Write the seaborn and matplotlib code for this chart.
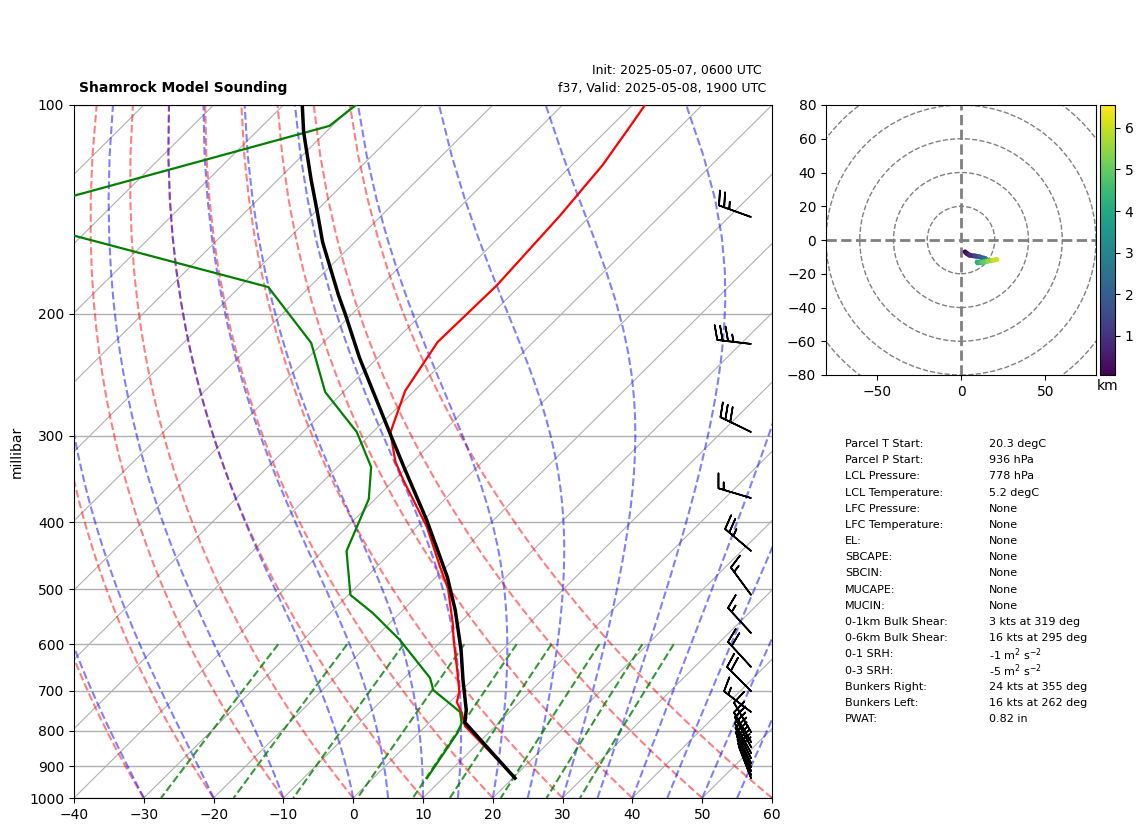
import numpy as np
import matplotlib
matplotlib.use('Agg')
import matplotlib.pyplot as plt
import seaborn as sns
from matplotlib.collections import LineCollection
from matplotlib.patches import Circle
from matplotlib.ticker import NullLocator, NullFormatter, FixedLocator, FixedFormatter

# sounding, pressure in hPa and temperature in degC
temp_p = [936, 858.5, 787, 754, 727, 703, 660, 591.6, 559, 499, 464, 406, 347.7, 327, 297,
          258.6, 219.8, 181.9, 144.6, 122.1, 106.9, 100]
temp_c = [20.3, 13, 5.6, 3.3, 1, -0.1, -3.1, -8.4, -11, -16.6, -20.9, -28.6, -38.7, -42.5, -47.4,
          -51.3, -53.7, -53.4, -54.4, -55.6, -57.3, -58.2]
dewp_p = [936, 803.3, 779.3, 751.4, 698.6, 671.2, 591.6, 540.8, 509.3, 440.1, 370.4, 332.9, 296.4,
          259.5, 220.4, 183.1, 144.6, 107.2, 100]
dewp_c = [7.7, 5.5, 4.7, 2.9, -4.1, -6.3, -16.1, -23.9, -29.7, -36.6, -40.9, -45.2, -52.3,
          -62.6, -71.7, -85.9, -134.6, -100.4, -99.6]
parcel_p = [936, 778, 746.5, 675.6, 611.6, 535.6, 479.9, 397, 336.2, 301.4, 231.7, 200.2, 188,
            157.7, 142.7, 128.3, 109.4, 100]
parcel_c = [20.3, 5.1, 3.5, -1.3, -5.9, -12.5, -18.4, -29.6, -39.9, -46.6, -62.6, -71, -74.7,
            -84.6, -89.7, -95.2, -103.2, -107.3]

# wind barbs, kts
barb_p = [145.1, 221.2, 296.4, 369.1, 440.1, 509.3, 578, 647, 701, 751.4, 803.3, 830, 844, 861, 876,
          890, 902, 914, 926, 936]
barb_u = [23.5, 34.8, 27, 14.4, 19.1, 8.9, 10.1, 13.5, 14.1, 11.9, 5, 5, 4.8, 4.8, 4.6,
          4.5, 4.2, 4, 3.8, 3.6]
barb_v = [-8.5, -4.1, -13.1, -4.3, -16.2, -12.1, -11, -14.7, -14.1, -9.1, -8.6, -8.6, -8.8, -8.8, -8.9,
          -8.9, -9.1, -9.2, -9.2, -9.3]

# hodograph
hodo_u = [2.4, 3.5, 5, 8.3, 11, 14.2, 15.5, 13, 10, 9.5, 11, 13, 16, 19, 21.3]
hodo_v = [-7, -8, -9, -9.5, -10, -10.9, -12, -13, -13.5, -13, -13, -13, -12.5, -12, -11.5]
hodo_km = [0.06, 0.4, 0.8, 1.4, 2, 2.5, 3, 3.4, 3.8, 4.2, 4.6, 5, 5.5, 6, 6.55]

# background lines of the diagram
iso_t = list(range(-140, 61, 10))
dry_t0 = list(range(-40, 61, 10))
moist_t0 = [-40, -30, -20, -10, 0, 5, 10, 15, 20, 25, 30, 35, 40, 45, 50, 55, 60]
mix_w = [0.0004, 0.001, 0.002, 0.004, 0.007, 0.01, 0.016, 0.024, 0.032]

p_ticks = [100, 200, 300, 400, 500, 600, 700, 800, 900, 1000]
t_ticks = [-40, -30, -20, -10, 0, 10, 20, 30, 40, 50, 60]

stat_names = ['Parcel T Start:', 'Parcel P Start:', 'LCL Pressure:', 'LCL Temperature:', 'LFC Pressure:',
              'LFC Temperature:', 'EL:', 'SBCAPE:', 'SBCIN:', 'MUCAPE:', 'MUCIN:', '0-1km Bulk Shear:',
              '0-6km Bulk Shear:', '0-1 SRH:', '0-3 SRH:', 'Bunkers Right:', 'Bunkers Left:', 'PWAT:']
stat_vals = ['20.3 degC', '936 hPa', '778 hPa', '5.2 degC', 'None', 'None', 'None', 'None', 'None', 'None',
             'None', '3 kts at 319 deg', '16 kts at 295 deg', r'-1 m$^2$ s$^{-2}$', r'-5 m$^2$ s$^{-2}$',
             '24 kts at 355 deg', '16 kts at 262 deg', '0.82 in']

W, H = 1142, 832
SKEW = 100  # degC per decade of pressure


def skew(t, p):
    return np.asarray(t, dtype=float) + SKEW * np.log10(1000 / np.asarray(p, dtype=float))


def sat_vp(tc):
    return 6.112 * np.exp(17.67 * tc / (tc + 243.5))


def moist_rate(p, tk):
    rs = 0.622 * sat_vp(tk - 273.15) / (p - sat_vp(tk - 273.15))
    return (287.0 * tk + 2.501e6 * rs) / (1005.0 + 2.501e6 ** 2 * rs * 0.622 / (287.0 * tk * tk)) / p


def moist_curve(t0, pres):
    out = [t0 + 273.15]
    for p1, p2 in zip(pres[:-1], pres[1:]):
        tk = out[-1]
        dp = p2 - p1
        k1 = moist_rate(p1, tk)
        k2 = moist_rate(p1 + dp / 2, tk + k1 * dp / 2)
        k3 = moist_rate(p1 + dp / 2, tk + k2 * dp / 2)
        k4 = moist_rate(p2, tk + k3 * dp)
        out.append(tk + dp * (k1 + 2 * k2 + 2 * k3 + k4) / 6)
    return np.array(out) - 273.15


def box(left, top, right, bottom):
    return [left / W, 1 - bottom / H, (right - left) / W, (bottom - top) / H]


fig = plt.figure(figsize=(W / 100, H / 100), dpi=100)
ax = fig.add_axes(box(74, 105, 772, 798))
ax.set_yscale('log')
ax.set_ylim(1000, 100)
ax.set_xlim(-40, 60)

# isotherms and isobars
ax.grid(True, axis='y', color='#b0b0b0', lw=1.0)
ax.set_axisbelow(True)
for t in iso_t:
    ax.plot(skew([t, t], [1000, 100]), [1000, 100], color='#b0b0b0', lw=0.8, zorder=1)

pres = np.linspace(1000, 100, 50)
for t0 in dry_t0:
    t = (t0 + 273.15) * (pres / 1000) ** 0.2854 - 273.15
    ax.plot(skew(t, pres), pres, color='r', ls='--', lw=1.5, alpha=0.5, zorder=1.5)
for t0 in moist_t0:
    ax.plot(skew(moist_curve(t0, pres), pres), pres, color='b', ls='--', lw=1.5, alpha=0.5, zorder=1.5)

pres_w = np.linspace(600, 1000, 50)
for w in mix_w:
    e = w * pres_w / (0.622 + w)
    td = 243.5 * np.log(e / 6.112) / (17.67 - np.log(e / 6.112))
    ax.plot(skew(td, pres_w), pres_w, color='g', ls='--', lw=1.5, alpha=0.8, zorder=1.5)

sns.lineplot(x=skew(temp_c, temp_p), y=temp_p, color='r', lw=1.6, sort=False, estimator=None, ax=ax, zorder=3)
sns.lineplot(x=skew(dewp_c, dewp_p), y=dewp_p, color='g', lw=1.6, sort=False, estimator=None, ax=ax, zorder=3)
sns.lineplot(x=skew(parcel_c, parcel_p), y=parcel_p, color='k', lw=2.5, sort=False, estimator=None, ax=ax, zorder=4)

ax.barbs(np.full(len(barb_p), 0.97), barb_p, barb_u, barb_v, transform=ax.get_yaxis_transform(),
         length=7, lw=1.2, sizes=dict(spacing=0.16, height=0.42), zorder=5)

ax.set_xlim(-40, 60)
ax.set_ylim(1000, 100)
ax.yaxis.set_major_locator(FixedLocator(p_ticks))
ax.yaxis.set_major_formatter(FixedFormatter([str(p) for p in p_ticks]))
ax.yaxis.set_minor_locator(NullLocator())
ax.yaxis.set_minor_formatter(NullFormatter())
ax.set_xticks(t_ticks)
ax.set_ylabel('millibar')
ax.set_xlabel('')

fig.text(79 / W, 1 - 92 / H, 'Shamrock Model Sounding', fontsize=10, fontweight='bold', ha='left', va='baseline')
fig.text(762 / W, 1 - 74 / H, 'Init: 2025-05-07, 0600 UTC', fontsize=9, ha='right', va='baseline')
fig.text(766 / W, 1 - 92 / H, 'f37, Valid: 2025-05-08, 1900 UTC', fontsize=9, ha='right', va='baseline')

# hodograph
hax = fig.add_axes(box(826, 105, 1096, 375))
hax.set_xlim(-80, 80)
hax.set_ylim(-80, 80)
for r in [20, 40, 60, 80, 100]:
    hax.add_patch(Circle((0, 0), r, fill=False, ec='#808080', ls='--', lw=1))
hax.axhline(0, color='#808080', ls='--', lw=2)
hax.axvline(0, color='#808080', ls='--', lw=2)
pts = np.column_stack([hodo_u, hodo_v])
segs = np.stack([pts[:-1], pts[1:]], axis=1)
lc = LineCollection(segs, cmap='viridis', lw=3.5, capstyle='round')
lc.set_array(np.array(hodo_km[:-1]))
lc.set_clim(hodo_km[0], hodo_km[-1])
hax.add_collection(lc)
hax.set_xticks([-50, 0, 50])
hax.set_yticks(list(range(-80, 81, 20)))

cax = fig.add_axes(box(1100, 105, 1115, 375))
cb = fig.colorbar(lc, cax=cax)
cb.set_ticks([1, 2, 3, 4, 5, 6])
cax.set_xlabel('km', labelpad=3)

# parcel numbers
for i, (name, val) in enumerate(zip(stat_names, stat_vals)):
    y = 1 - (444 + i * 16.18) / H
    fig.text(845 / W, y, name, fontsize=8, va='center')
    fig.text(989 / W, y, val, fontsize=8, va='center')

plt.savefig('out.png', dpi=100)
